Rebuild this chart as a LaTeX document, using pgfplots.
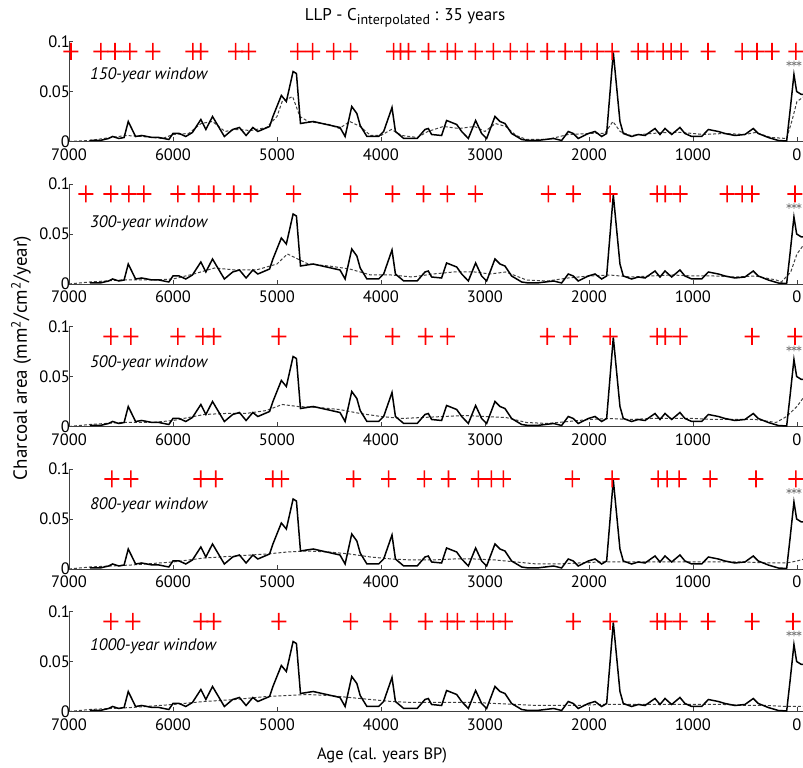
\documentclass[border=0pt]{standalone}
\usepackage{fontspec}
\setmainfont{PT Sans}
\usepackage{pgfplots}
\usepackage{pgfplotstable}
\pgfplotsset{compat=1.18}

% charcoal accumulation (same in every panel)
\pgfplotstableread{
x y
6800 0.001
6700 0.001
6620 0.003
6580 0.005
6520 0.003
6470 0.004
6430 0.020
6360 0.005
6300 0.006
6200 0.004
6135 0.004
6040 0.002
6000 0.008
5940 0.008
5877 0.005
5813 0.009
5732 0.022
5684 0.012
5620 0.025
5506 0.005
5426 0.012
5361 0.014
5297 0.006
5232 0.014
5184 0.010
5071 0.015
5039 0.025
4958 0.046
4910 0.040
4845 0.070
4813 0.068
4774 0.018
4652 0.020
4523 0.017
4394 0.014
4345 0.005
4281 0.035
4232 0.028
4200 0.016
4135 0.005
4023 0.005
3974 0.010
3894 0.034
3861 0.010
3781 0.003
3652 0.003
3577 0.012
3545 0.013
3513 0.007
3417 0.006
3369 0.021
3272 0.017
3224 0.010
3160 0.003
3090 0.021
3032 0.008
2984 0.003
2904 0.025
2856 0.020
2808 0.018
2744 0.008
2647 0.002
2583 0.001
2500 0.001
2420 0.002
2340 0.003
2263 0.001
2199 0.010
2151 0.008
2103 0.003
2006 0.008
1942 0.010
1878 0.005
1830 0.008
1766 0.089
1702 0.020
1670 0.008
1590 0.005
1526 0.007
1461 0.006
1365 0.013
1317 0.007
1269 0.013
1205 0.007
1125 0.014
1077 0.008
1012 0.005
916 0.005
852 0.012
756 0.010
692 0.008
596 0.006
500 0.007
420 0.013
372 0.008
276 0.004
179 0.001
99 0.0005
67 0.030
29 0.067
3 0.050
-43 0.047
-70 0.047
}\charcoal

% background, one per window
\pgfplotstableread{
x y
7000 0.000
6800 0.001
6600 0.004
6450 0.006
6300 0.005
6100 0.003
6000 0.007
5850 0.008
5730 0.018
5620 0.020
5500 0.010
5400 0.012
5250 0.011
5100 0.014
5000 0.025
4950 0.040
4850 0.045
4780 0.025
4700 0.020
4500 0.017
4400 0.013
4300 0.020
4200 0.015
4100 0.006
4000 0.006
3900 0.012
3800 0.006
3650 0.004
3550 0.010
3400 0.015
3250 0.013
3100 0.015
3000 0.010
2900 0.018
2800 0.015
2700 0.006
2600 0.002
2400 0.002
2200 0.007
2000 0.008
1850 0.008
1770 0.020
1700 0.010
1600 0.006
1400 0.008
1250 0.009
1100 0.009
900 0.007
700 0.008
500 0.007
400 0.009
250 0.004
100 0.003
50 0.020
0 0.040
-70 0.045
}\bgA
\pgfplotstableread{
x y
7000 0.000
6800 0.002
6500 0.004
6200 0.004
6000 0.005
5800 0.010
5600 0.016
5400 0.014
5200 0.014
5000 0.020
4900 0.030
4800 0.025
4700 0.020
4500 0.018
4300 0.015
4100 0.009
3900 0.009
3700 0.007
3500 0.010
3300 0.012
3100 0.012
2950 0.010
2800 0.012
2600 0.004
2400 0.003
2200 0.006
2000 0.008
1800 0.009
1600 0.007
1400 0.008
1200 0.009
1000 0.008
800 0.008
600 0.007
400 0.008
200 0.004
150 0.002
60 0.012
0 0.030
-70 0.040
}\bgB
\pgfplotstableread{
x y
7000 0.000
6800 0.002
6500 0.004
6200 0.004
6000 0.006
5700 0.012
5500 0.013
5300 0.013
5100 0.016
4950 0.022
4800 0.020
4600 0.019
4400 0.017
4200 0.013
4000 0.010
3800 0.008
3600 0.009
3400 0.010
3200 0.011
3000 0.010
2800 0.009
2600 0.004
2400 0.003
2200 0.005
2000 0.007
1800 0.008
1600 0.007
1400 0.008
1200 0.008
1000 0.008
800 0.007
600 0.007
400 0.007
200 0.004
100 0.010
0 0.020
-70 0.030
}\bgC
\pgfplotstableread{
x y
7000 0.000
6800 0.002
6400 0.004
6000 0.007
5700 0.011
5400 0.013
5100 0.015
4900 0.017
4700 0.018
4500 0.017
4300 0.015
4100 0.012
3900 0.010
3700 0.009
3500 0.009
3300 0.010
3100 0.010
2900 0.009
2700 0.007
2500 0.005
2300 0.005
2100 0.006
1900 0.007
1700 0.007
1500 0.007
1300 0.007
1100 0.007
900 0.007
700 0.007
500 0.007
300 0.006
100 0.006
0 0.008
-70 0.010
}\bgD
\pgfplotstableread{
x y
7000 0.000
6800 0.002
6400 0.004
6000 0.007
5700 0.010
5400 0.012
5100 0.015
4900 0.016
4700 0.017
4500 0.016
4300 0.014
4100 0.012
3900 0.010
3700 0.009
3500 0.009
3300 0.009
3100 0.009
2900 0.008
2700 0.007
2500 0.006
2300 0.006
2100 0.006
1900 0.007
1700 0.007
1500 0.007
1300 0.007
1100 0.007
900 0.007
700 0.007
500 0.006
300 0.006
100 0.005
0 0.005
-70 0.005
}\bgE

% peaks (red +) per window
\pgfplotstableread{
x y
6981 0.09
6693 0.09
6558 0.09
6414 0.09
6193 0.09
5809 0.09
5733 0.09
5397 0.09
5272 0.09
4801 0.09
4657 0.09
4455 0.09
4292 0.09
3879 0.09
3812 0.09
3735 0.09
3543 0.09
3361 0.09
3284 0.09
3092 0.09
2919 0.09
2756 0.09
2593 0.09
2401 0.09
2228 0.09
2074 0.09
1921 0.09
1777 0.09
1527 0.09
1440 0.09
1287 0.09
1210 0.09
1114 0.09
855 0.09
528 0.09
384 0.09
240 0.09
10 0.09
}\pkA
\pgfplotstableread{
x y
6837 0.09
6597 0.09
6424 0.09
6280 0.09
5953 0.09
5752 0.09
5608 0.09
5416 0.09
5252 0.09
4840 0.09
4292 0.09
3889 0.09
3591 0.09
3361 0.09
3092 0.09
2391 0.09
2151 0.09
1796 0.09
1344 0.09
1267 0.09
1123 0.09
672 0.09
528 0.09
432 0.09
19 0.09
}\pkB
\pgfplotstableread{
x y
6597 0.09
6405 0.09
5953 0.09
5713 0.09
5608 0.09
4983 0.09
4292 0.09
3889 0.09
3572 0.09
3361 0.09
2401 0.09
2180 0.09
1796 0.09
1344 0.09
1267 0.09
1123 0.09
432 0.09
19 0.09
}\pkC
\pgfplotstableread{
x y
6587 0.09
6405 0.09
5733 0.09
5589 0.09
5041 0.09
4955 0.09
4264 0.09
3927 0.09
3582 0.09
3351 0.09
3063 0.09
2938 0.09
2823 0.09
2160 0.09
1777 0.09
1335 0.09
1248 0.09
1133 0.09
835 0.09
394 0.09
10 0.09
}\pkD
\pgfplotstableread{
x y
6597 0.09
6385 0.09
5733 0.09
5608 0.09
4983 0.09
4292 0.09
3908 0.09
3572 0.09
3361 0.09
3265 0.09
3073 0.09
2919 0.09
2804 0.09
2151 0.09
1796 0.09
1344 0.09
1267 0.09
1123 0.09
855 0.09
432 0.09
38 0.09
}\pkE

% grey asterisks near the present
\pgfplotstableread{
x y
77 0.078
29 0.078
-19 0.078
-67 0.078
}\astdata

% filled plus, so that every cross renders with the same weight
\pgfdeclareplotmark{fatplus}{%
  \pgfpathrectangle{\pgfpoint{-7.5pt}{-0.8pt}}{\pgfpoint{15pt}{1.6pt}}%
  \pgfpathrectangle{\pgfpoint{-0.8pt}{-8.5pt}}{\pgfpoint{1.6pt}{17pt}}%
  \pgfusepathqfill}

\pgfplotsset{
  panel/.style={
    scale only axis,
    width=734pt, height=100pt,
    anchor=south west,
    x dir=reverse,
    xmin=-58, xmax=7000,
    ymin=0, ymax=0.1,
    axis lines=left,
    axis line style={-, black!75, line width=0.8pt},
    tick style={black!75, line width=0.8pt},
    tick align=inside,
    major tick length=4pt,
    xtick={0,1000,2000,3000,4000,5000,6000,7000},
    xticklabels={0,1000,2000,3000,4000,5000,6000,7000},
    ytick={0,0.05,0.1},
    yticklabels={0,0.05,0.1},
    /pgf/number format/assume math mode=true,
    tick label style={font=\fontsize{16.5}{18}\selectfont},
    xticklabel style={yshift=-6pt, inner sep=1pt},
    yticklabel style={xshift=2pt, inner sep=1pt},
  },
  char/.style={black, line width=1.5pt},
  bg/.style={black!75, line width=1pt, dash pattern=on 3pt off 2pt},
  pk/.style={only marks, mark=fatplus, red, mark options={fill=red, draw=none}},
  ast/.style={only marks, mark=asterisk, mark size=2.8pt, gray, mark options={line width=0.7pt}},
}
\tikzset{wlab/.style={font=\fontsize{16.7}{19}\selectfont\itshape, anchor=west}}

\begin{document}
\begin{tikzpicture}[x=1pt,y=1pt]
\useasboundingbox (0,0) rectangle (803,768);
\clip (0,0) rectangle (803,768);

\node[font=\fontsize{17}{20}\selectfont] at (405,750)
  {LLP - C\raisebox{-0.45ex}{\fontsize{14}{16}\selectfont interpolated}\ : 35 years};

\begin{axis}[panel, at={(69pt,626.5pt)}]
\addplot[bg] table {\bgA};
\addplot[char] table {\charcoal};
\addplot[pk] table {\pkA};
\addplot[ast] table {\astdata};
\node[wlab] at (axis description cs:0.024,0.66) {150-year window};
\end{axis}

\begin{axis}[panel, at={(69pt,484pt)}]
\addplot[bg] table {\bgB};
\addplot[char] table {\charcoal};
\addplot[pk] table {\pkB};
\addplot[ast] table {\astdata};
\node[wlab] at (axis description cs:0.024,0.61) {300-year window};
\end{axis}

\begin{axis}[panel, at={(69pt,341.5pt)}]
\addplot[bg] table {\bgC};
\addplot[char] table {\charcoal};
\addplot[pk] table {\pkC};
\addplot[ast] table {\astdata};
\node[wlab] at (axis description cs:0.024,0.63) {500-year window};
\end{axis}

\begin{axis}[panel, at={(69pt,199pt)}]
\addplot[bg] table {\bgD};
\addplot[char] table {\charcoal};
\addplot[pk] table {\pkD};
\addplot[ast] table {\astdata};
\node[wlab] at (axis description cs:0.024,0.64) {800-year window};
\end{axis}

\begin{axis}[panel, at={(69pt,56.5pt)}]
\addplot[bg] table {\bgE};
\addplot[char] table {\charcoal};
\addplot[pk] table {\pkE};
\addplot[ast] table {\astdata};
\node[wlab] at (axis description cs:0.024,0.655) {1000-year window};
\end{axis}

\node[font=\fontsize{19}{22}\selectfont, rotate=90] at (21,410) {Charcoal area (mm\textsuperscript{2}/cm\textsuperscript{2}/year)};
\node[font=\fontsize{16.5}{19}\selectfont] at (382,13) {Age (cal. years BP)};
\end{tikzpicture}
\end{document}
